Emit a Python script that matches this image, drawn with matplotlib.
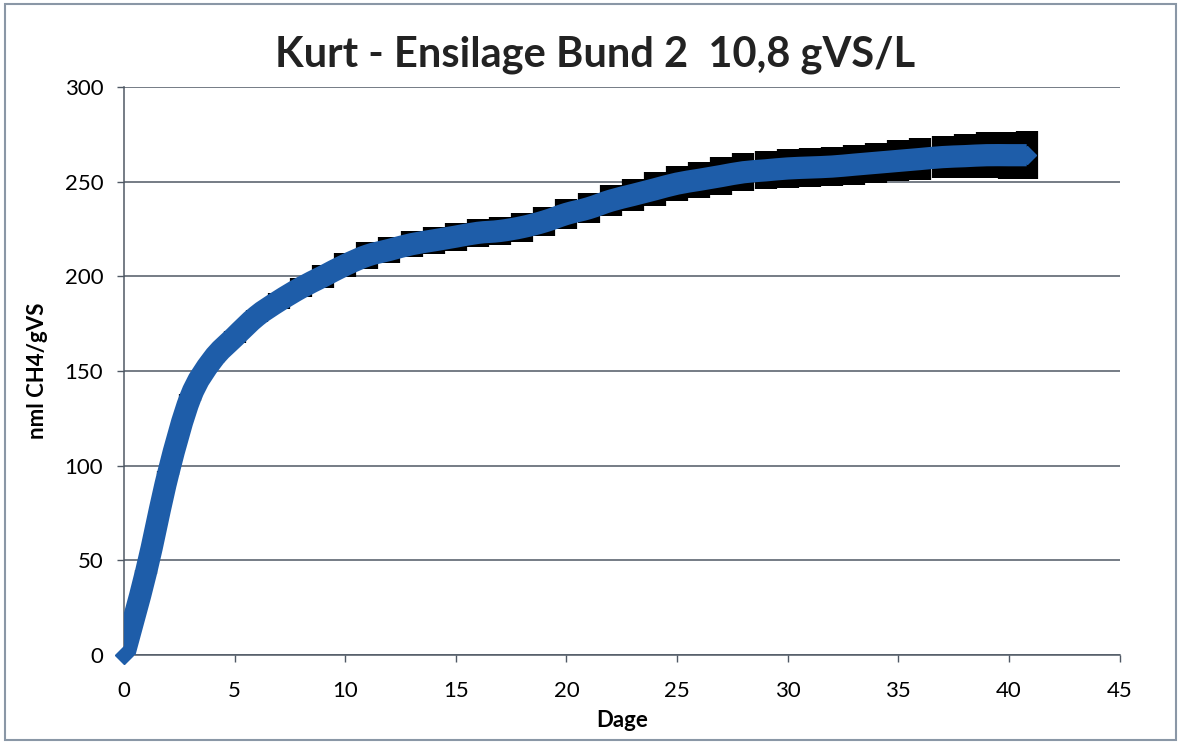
import matplotlib
matplotlib.use("Agg")
import matplotlib.pyplot as plt
from matplotlib.patches import Rectangle, PathPatch
from matplotlib.path import Path

plt.rcParams["font.family"] = ["Lato", "DejaVu Sans"]

# days since start (last reading a little before day 41)
days = [
    0, 1, 2, 3, 4, 5, 6, 7, 8, 9,
    10, 11, 12, 13, 14, 15, 16, 17, 18, 19,
    20, 21, 22, 23, 24, 25, 26, 27, 28, 29,
    30, 31, 32, 33, 34, 35, 36, 37, 38, 39,
    40, 40.8,
]
# accumulated methane yield, nml CH4 / gVS
methane = [
    0, 44, 96, 136, 156, 168, 179, 187, 194, 200,
    206, 211, 214, 217, 219, 221, 223, 224, 226, 229,
    233, 236, 240, 243, 246, 249, 251, 253, 255, 256,
    257, 257.5, 258, 259, 260, 261, 262, 263, 263.5, 264,
    264, 264,
]
# standard deviation per reading
methane_sd = [
    0, 1, 1, 2, 2, 3, 3, 4, 5, 6,
    6.5, 7, 7, 7, 7.2, 7.4, 7.5, 7.6, 7.6, 7.6,
    7.8, 8, 8.3, 8.6, 9, 9.3, 9.6, 9.8, 10, 10.1,
    10.2, 10.3, 10.4, 10.5, 10.6, 10.8, 11, 11.3, 11.6, 12,
    12.4, 12.8,
]

title = "Kurt - Ensilage Bund 2  10,8 gVS/L"
x_ticks = [0, 5, 10, 15, 20, 25, 30, 35, 40, 45]
y_ticks = [0, 50, 100, 150, 200, 250, 300]

blue = "#1e5da9"
grid_col = "#4f5864"


def smooth_path(xs, ys):
    # Excel-like smoothed line: Catmull-Rom segments as cubic Beziers
    pts = list(zip(xs, ys))
    verts = [pts[0]]
    codes = [Path.MOVETO]
    n = len(pts)
    for i in range(n - 1):
        p0 = pts[max(i - 1, 0)]
        p1 = pts[i]
        p2 = pts[i + 1]
        p3 = pts[min(i + 2, n - 1)]
        c1 = (p1[0] + (p2[0] - p0[0]) / 6, p1[1] + (p2[1] - p0[1]) / 6)
        c2 = (p2[0] - (p3[0] - p1[0]) / 6, p2[1] - (p3[1] - p1[1]) / 6)
        verts += [c1, c2, p2]
        codes += [Path.CURVE4] * 3
    return Path(verts, codes)


fig = plt.figure(figsize=(11.81, 7.44), dpi=100)
ax = fig.add_axes([0.105, 0.1196, 0.843, 0.7634])

# border around the whole chart
fig.patches.append(Rectangle((0.004, 0.006), 0.992, 0.988, transform=fig.transFigure,
                             fill=False, edgecolor="#8a97a6", lw=1.5))

ax.errorbar(days, methane, yerr=methane_sd, fmt="none", ecolor="black",
            elinewidth=16, capsize=0, zorder=3)
ax.add_patch(PathPatch(smooth_path(days, methane), facecolor="none", edgecolor=blue,
                       lw=16, capstyle="butt", joinstyle="round", zorder=4))
ax.plot(days, methane, linestyle="none", marker="D", markersize=9.5,
        color=blue, zorder=5, clip_on=False)

ax.set_xlim(0, 45)
ax.set_ylim(0, 300)
ax.set_xticks(x_ticks)
ax.set_yticks(y_ticks)
ax.tick_params(labelsize=16, length=5, width=1, color=grid_col)
ax.tick_params(axis="x", pad=14)
ax.tick_params(axis="y", pad=10)
ax.grid(axis="y", color=grid_col, lw=1.1)
ax.set_axisbelow(True)
for side in ["top", "right"]:
    ax.spines[side].set_visible(False)
for side in ["left", "bottom"]:
    ax.spines[side].set_color(grid_col)
    ax.spines[side].set_linewidth(1.1)

ax.set_xlabel("Dage", fontsize=16, fontweight="bold", labelpad=6)
ax.set_ylabel("nml CH4/gVS", fontsize=16, fontweight="bold", labelpad=12)
fig.text(0.504, 0.926, title, fontsize=30, fontweight="bold", color="#222222",
         ha="center", va="center")

fig.savefig("out.png", dpi=100)
